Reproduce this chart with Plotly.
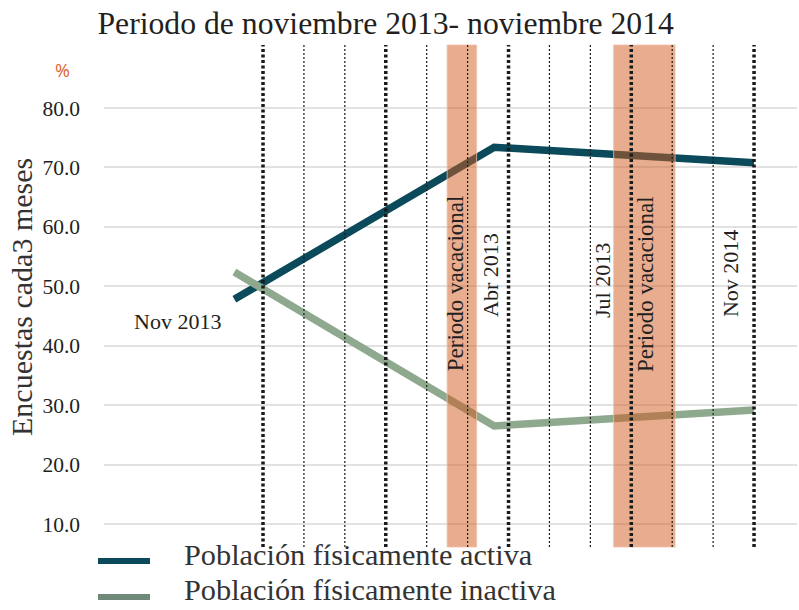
import plotly.graph_objects as go

# ---- data ----
series_names = ["Población físicamente activa", "Población físicamente inactiva"]
x_months = [-0.7, 5.65, 12]          # months from Nov 2013
activa = [47.8, 73.4, 70.8]
inactiva = [52.4, 26.5, 29.2]
ytick_vals = [10, 20, 30, 40, 50, 60, 70, 80]
ytick_text = ["10.0", "20.0", "30.0", "40.0", "50.0", "60.0", "70.0", "80.0"]
month_lines = list(range(0, 13))
quarter_lines = [0, 3, 6, 9, 12]
vacation_bands = [(4.5, 5.22), (8.57, 10.07)]
labels_h = [("Nov 2013", -2.1, 44.0)]
labels_v = [("Periodo vacacional", 4.69, 50.5), ("Abr 2013", 5.57, 51.9),
            ("Jul 2013", 8.31, 50.9), ("Periodo vacacional", 9.36, 50.4),
            ("Nov 2014", 11.41, 52.2)]

SERIF = "Liberation Serif"
TXT = "#231f20"
C_ACT = "#0b4a5a"
C_INA = "#8fa98f"
LEG_COLORS = [C_ACT, "#6f8a78"]

W, H = 799, 610
ML, MR, MT, MB = 104, 2, 45, 63
PW, PH = W - ML - MR, H - MT - MB


def px_to_paper(px, py):
    return (px - ML) / PW, (H - MB - py) / PH


fig = go.Figure()
fig.add_trace(go.Scatter(x=x_months, y=activa, mode="lines", name=series_names[0],
                         line=dict(color=C_ACT, width=7.5), showlegend=False))
fig.add_trace(go.Scatter(x=x_months, y=inactiva, mode="lines", name=series_names[1],
                         line=dict(color=C_INA, width=7.5), showlegend=False))

shapes = []
for a, b in vacation_bands:
    shapes.append(dict(type="rect", xref="x", yref="paper", x0=a, x1=b, y0=0, y1=1,
                       fillcolor="rgba(210,90,30,0.5)", line=dict(width=1, color="rgba(240,190,165,0.8)"),
                       layer="above"))
for m in month_lines:
    thick = m in quarter_lines
    shapes.append(dict(type="line", xref="x", yref="paper", x0=m, x1=m, y0=0, y1=1,
                       line=dict(color="#1a1a1a", width=3.5 if thick else 1.2,
                                 dash="3px,2.5px" if thick else "2px,2px"),
                       layer="above"))

annotations = []
for t, x, y in labels_h:
    annotations.append(dict(text=t, x=x, y=y, xref="x", yref="y", showarrow=False,
                            xanchor="center", yanchor="middle",
                            font=dict(family=SERIF, size=22, color=TXT)))
for t, x, y in labels_v:
    annotations.append(dict(text=t, x=x, y=y, xref="x", yref="y", showarrow=False, textangle=-90,
                            xanchor="center", yanchor="middle",
                            font=dict(family=SERIF, size=23 if t.startswith("Periodo") else 22,
                                      color=TXT)))
yt_x, yt_y = px_to_paper(21, 297)
annotations.append(dict(text="Encuestas cada3 meses", x=yt_x, y=yt_y, xref="paper", yref="paper",
                        showarrow=False, textangle=-90, xanchor="center", yanchor="middle",
                        font=dict(family=SERIF, size=30, color="#333333")))
p_x, p_y = px_to_paper(62, 70)
annotations.append(dict(text="%", x=p_x, y=p_y, xref="paper", yref="paper", showarrow=False,
                        xanchor="center", yanchor="middle",
                        font=dict(family="Open Sans", size=18, color="#e0622a")))

# manual legend (line sample + label)
for i, (name, col) in enumerate(zip(series_names, LEG_COLORS)):
    ly = 561 + 36 * i
    x0, y0 = px_to_paper(98, ly)
    x1, _ = px_to_paper(150, ly)
    shapes.append(dict(type="line", xref="paper", yref="paper", x0=x0, x1=x1, y0=y0, y1=y0,
                       line=dict(color=col, width=6)))
    tx, ty = px_to_paper(182, 555 + 35 * i)
    annotations.append(dict(text=name, x=tx, y=ty, xref="paper", yref="paper", showarrow=False,
                            xanchor="left", yanchor="middle",
                            font=dict(family=SERIF, size=30.3, color="#333333")))

fig.update_layout(
    width=W, height=H,
    margin=dict(l=ML, r=MR, t=MT, b=MB),
    paper_bgcolor="white", plot_bgcolor="white",
    title=dict(text="Periodo de noviembre 2013- noviembre 2014", x=0.122, xanchor="left",
               y=0.962, yanchor="middle", font=dict(family=SERIF, size=31.7, color=TXT)),
    xaxis=dict(range=[-3.886, 13.05], showgrid=False, zeroline=False, showticklabels=False,
               showline=False, ticks=""),
    yaxis=dict(range=[6.13, 90.6], tickvals=ytick_vals, ticktext=ytick_text, showgrid=True,
               gridcolor="#e2e2e2", gridwidth=1.5, zeroline=False, showline=False, ticks="",
               ticklabelstandoff=23, tickfont=dict(family=SERIF, size=21.5, color=TXT)),
    showlegend=False,
    shapes=shapes, annotations=annotations,
)
fig.write_html("out.html", config={"displayModeBar": False},
               post_script="document.body.style.margin='0';document.body.style.overflow='hidden';")
